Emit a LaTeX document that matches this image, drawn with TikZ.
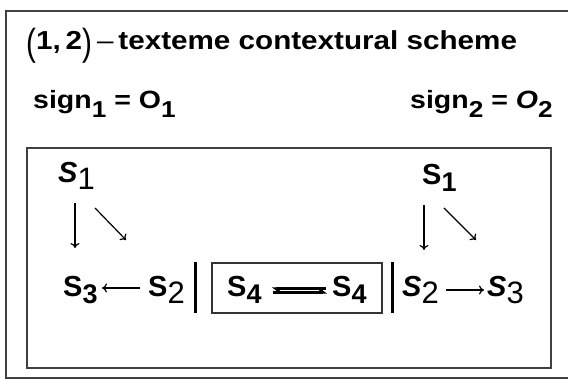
\documentclass[tikz,border=0pt]{standalone}
\usepackage{fontspec}
\setmainfont{Liberation Sans}
\usetikzlibrary{arrows.meta}
\newcommand\Sbd[1]{\raisebox{-7pt}{\fontsize{27}{30}\selectfont\bfseries #1}}
\newcommand\Srg[1]{\raisebox{-7pt}{\fontsize{31}{34}\selectfont\mdseries #1}}
\newcommand\Hsub[1]{\raisebox{-9pt}{\fontsize{23}{26}\selectfont\bfseries #1}}
\newcommand\Paren[1]{\raisebox{-6pt}{\scalebox{1}[1.45]{\mdseries #1}}}
\newcommand\Wide[1]{\scalebox{1.14}[1]{#1}}
\tikzset{
  frame/.style={draw=black!75, line width=2pt},
  sym/.style={inner sep=0pt, anchor=base west, font=\fontsize{29}{32}\selectfont\bfseries},
  head/.style={inner sep=0pt, anchor=base west, font=\fontsize{26}{30}\selectfont\bfseries},
  signtxt/.style={inner sep=0pt, anchor=base west, font=\fontsize{25}{30}\selectfont\bfseries},
  arr/.style={line width=1.2pt, -{To[length=5pt,width=9pt]}},
  bar/.style={line width=3pt},
  harp/.style={line width=2.2pt, -{Straight Barb[left,length=4pt,width=6pt]}},
}
\begin{document}
\begin{tikzpicture}[x=1pt,y=1pt]
\useasboundingbox (0,0) rectangle (568,379);
% frames
\draw[frame] (568,368) -- (6,368) -- (6,1) -- (568,1);
\draw[frame] (27,11) rectangle (551,231);
% header
\node[head] (title) at (26,329) {\Wide{\Paren{(}1,\,2\Paren{)}\,\mdseries{–}\,\bfseries texteme contextural scheme}};
\node[signtxt] (sign1) at (33,270) {\Wide{sign\Hsub{1}\;=\;O\Hsub{1}}};
\node[signtxt] (sign2) at (410,270) {\Wide{sign\Hsub{2}\;=\;\textit{O}\Hsub{2}}};
% left group
\node[sym] (lS1) at (58,196) {\textit{S}\Srg{1}};
\node[sym] (lS3) at (63,82) {S\Sbd{3}};
\node[sym] (lS2) at (148,82) {S\Srg{2}};
\coordinate (ld1) at (75,176);
\coordinate (ld2) at (75,131);
\coordinate (lg1) at (95,171);
\coordinate (lg2) at (126,139);
\coordinate (lh1) at (140,91);
\coordinate (lh2) at (102,91);
\draw[arr] (ld1) -- (ld2);
\draw[arr] (lg1) -- (lg2);
\draw[arr] (lh1) -- (lh2);
% bars
\coordinate (b1t) at (195,117);
\coordinate (b1b) at (195,66);
\coordinate (b2t) at (392,117);
\coordinate (b2b) at (392,66);
\draw[bar] (b1t) -- (b1b);
\draw[bar] (b2t) -- (b2b);
% middle box
\node[draw=black!80, line width=1.5pt, minimum width=170pt, minimum height=50pt, inner sep=0pt] (mid) at (297,91) {};
\node[sym] (m1) at (227,82) {S\Sbd{4}};
\node[sym] (m2) at (332,82) {S\Sbd{4}};
\coordinate (e1) at (326,90.5);
\coordinate (e2) at (272,90.5);
\coordinate (f1) at (273,86.5);
\coordinate (f2) at (327,86.5);
\draw[harp] (e1) -- (e2);
\draw[harp] (f1) -- (f2);
% right group
\node[sym] (rS1) at (422,194) {S\Sbd{1}};
\node[sym] (rS2) at (402,82) {\textit{S}\Srg{2}};
\node[sym] (rS3) at (487,82) {\textit{S}\Srg{3}};
\coordinate (rd1) at (424,174);
\coordinate (rd2) at (424,129);
\coordinate (rg1) at (444,171);
\coordinate (rg2) at (476,139);
\coordinate (rh1) at (446,89);
\coordinate (rh2) at (484,89);
\draw[arr] (rd1) -- (rd2);
\draw[arr] (rg1) -- (rg2);
\draw[arr] (rh1) -- (rh2);
\end{tikzpicture}
\end{document}
